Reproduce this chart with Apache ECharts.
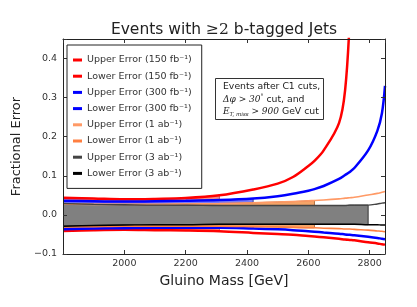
<!DOCTYPE html>
<html><head><meta charset="utf-8">
<script src="https://cdn.jsdelivr.net/npm/echarts@6/dist/echarts.min.js"></script>
<style>html,body{margin:0;padding:0;background:#fff}#c{width:417px;height:307px}</style>
</head><body><div id="c"></div>
<script>
// ---- data ----
const masses   = [1800, 1900, 2000, 2100, 2200, 2310, 2420, 2500, 2550, 2600, 2620, 2650, 2700, 2720, 2735, 2750, 2795, 2825, 2840, 2850];
const redUp    = [0.044, 0.042, 0.040, 0.041, 0.043, 0.050, 0.065, 0.080, 0.097, 0.125, 0.138, 0.165, 0.235, 0.320, 0.500, null, null, null, null, null];
const redLo    = [-0.041, -0.039, -0.038, -0.039, -0.040, -0.042, -0.046, -0.049, -0.051, -0.054, -0.055, -0.057, -0.061, -0.063, -0.064, -0.065, -0.070, -0.073, -0.075, -0.076];
const blueUp   = [0.036, 0.035, 0.034, 0.035, 0.036, 0.038, 0.042, 0.048, 0.054, 0.062, 0.066, 0.074, 0.092, 0.102, 0.110, 0.120, 0.165, 0.215, 0.260, 0.330];
const blueLo   = [-0.037, -0.035, -0.034, -0.033, -0.033, -0.033, -0.035, -0.037, -0.039, -0.042, -0.043, -0.045, -0.048, -0.050, -0.051, -0.052, -0.056, -0.059, -0.061, -0.062];
const orangeUp = [0.028, 0.027, 0.027, 0.027, 0.028, 0.029, 0.031, 0.033, 0.034, 0.036, 0.037, 0.038, 0.041, 0.043, 0.044, 0.045, 0.051, 0.055, 0.058, 0.060];
const orangeLo = [-0.031, -0.030, -0.029, -0.029, -0.029, -0.029, -0.030, -0.031, -0.032, -0.033, -0.033, -0.034, -0.035, -0.036, -0.036, -0.037, -0.039, -0.041, -0.042, -0.043];
const blackUp  = [0.029, 0.027, 0.026, 0.025, 0.025, 0.024, 0.024, 0.024, 0.024, 0.024, 0.024, 0.024, 0.024, 0.024, 0.025, 0.025, 0.025, 0.028, 0.030, 0.031];
const blackLo  = [-0.029, -0.027, -0.026, -0.025, -0.025, -0.024, -0.024, -0.024, -0.024, -0.024, -0.024, -0.024, -0.024, -0.024, -0.024, -0.024, -0.025, -0.025, -0.026, -0.026];
// mass up to which each band is shaded
const bandCut  = {red: 2310, blue: 2420, orange: 2620, black: 2795};
const xTicks   = [2000, 2200, 2400, 2600, 2800];
const yTicks   = [-0.1, 0.0, 0.1, 0.2, 0.3, 0.4];
const legendNames = ['Upper Error (150 fb⁻¹)','Lower Error (150 fb⁻¹)','Upper Error (300 fb⁻¹)','Lower Error (300 fb⁻¹)','Upper Error (1 ab⁻¹)','Lower Error (1 ab⁻¹)','Upper Error (3 ab⁻¹)','Lower Error (3 ab⁻¹)'];

const pairs = arr => masses.map((m,i)=>[m, arr[i]]);
const series = [];
function band(key, up, lo, fillColor, edgeColor, z){
  const n = masses.indexOf(bandCut[key]) + 1;
  const rows = masses.slice(0,n).map((m,i)=>[m, lo[i], up[i]]);
  series.push({type:'custom', name:'band_'+key, silent:true, z:z, clip:true,
    data: rows, encode:{x:0, y:[1,2]},
    renderItem:(params, api)=>{
      if (params.dataIndex !== 0) return null;
      const top = rows.map(r=>api.coord([r[0], r[2]]));
      const bot = rows.map(r=>api.coord([r[0], r[1]])).reverse();
      return {type:'polygon', shape:{points: top.concat(bot)},
        style:{fill:fillColor, stroke:edgeColor, lineWidth:1}};
    }});
}
band('red', redUp, redLo, '#f28c8c', '#c06060', 1);
band('blue', blueUp, blueLo, '#7b7bf4', '#404090', 2);
band('orange', orangeUp, orangeLo, '#f5a468', '#b07040', 3);
band('black', blackUp, blackLo, '#808080', '#333333', 4);

const lineDefs = [
  [legendNames[0], redUp, '#ff0000', 2.5],
  [legendNames[1], redLo, '#ff0000', 2.5],
  [legendNames[2], blueUp, '#0000ff', 2.5],
  [legendNames[3], blueLo, '#0000ff', 2.5],
  [legendNames[4], orangeUp, '#ff9a66', 1.6],
  [legendNames[5], orangeLo, '#ff7f40', 1.6],
  [legendNames[6], blackUp, '#444444', 1.4],
  [legendNames[7], blackLo, '#000000', 1.4]
];
lineDefs.forEach(d=>{
  series.push({type:'line', name:d[0], data:pairs(d[1]), smooth:0.35, showSymbol:false, z:10,
    itemStyle:{color:d[2]}, lineStyle:{color:d[2], width:d[3]}});
});

const axisFont = {fontFamily:'DejaVu Sans', fontSize:9.5, color:'#333'};
const chart = echarts.init(document.getElementById('c'), null, {renderer:'canvas'});
chart.setOption({
  animation:false,
  grid:{left:63, right:32, top:39, bottom:53},
  xAxis:[
    {type:'value', min:1800, max:2850, interval:200, z:12,
     name:'Gluino Mass [GeV]', nameLocation:'middle', nameGap:17,
     nameTextStyle:{fontFamily:'DejaVu Sans', fontSize:14, color:'#222'},
     axisLine:{show:true, onZero:false, lineStyle:{color:'#222', width:1}},
     axisTick:{show:true, inside:true, length:4, lineStyle:{color:'#333'}},
     axisLabel:Object.assign({margin:5, formatter:v=>xTicks.indexOf(v)>=0?String(v):''}, axisFont),
     splitLine:{show:false}},
    {type:'value', position:'top', min:1800, max:2850, interval:200, z:12,
     axisLine:{show:true, onZero:false, lineStyle:{color:'#222', width:1}},
     axisTick:{show:true, inside:true, length:4, lineStyle:{color:'#333'}},
     axisLabel:{show:false}, splitLine:{show:false}}
  ],
  yAxis:[
    {type:'value', min:-0.1, max:0.45, interval:0.1, z:12,
     name:'Fractional Error', nameLocation:'middle', nameGap:29,
     nameTextStyle:{fontFamily:'DejaVu Sans', fontSize:13, color:'#222'},
     axisLine:{show:true, onZero:false, lineStyle:{color:'#222', width:1}},
     axisTick:{show:true, inside:true, length:4, lineStyle:{color:'#333'}},
     axisLabel:Object.assign({margin:6, formatter:v=>{
        const t = yTicks.find(y=>Math.abs(y-v)<1e-9);
        return t===undefined ? '' : t.toFixed(1).replace('-','\u2212');}}, axisFont),
     splitLine:{show:false}},
    {type:'value', position:'right', min:-0.1, max:0.45, interval:0.1, z:12,
     axisLine:{show:true, onZero:false, lineStyle:{color:'#222', width:1}},
     axisTick:{show:true, inside:true, length:4, lineStyle:{color:'#333'}},
     axisLabel:{show:false}, splitLine:{show:false}}
  ],
  legend:{data:legendNames, orient:'vertical', left:67, top:45, selectedMode:false,
    padding:[9,10,9,6], itemGap:4.2, itemWidth:9, itemHeight:3, icon:'rect',
    backgroundColor:'#fff', borderColor:'#222', borderWidth:1, z:20,
    textStyle:{fontFamily:'DejaVu Sans', fontSize:9.5, color:'#333', lineHeight:12}},
  graphic:[
    {type:'text', x:224, y:30, z:30, style:{
      text:'{a|Events with }{b|≥2}{a| b-tagged Jets}', align:'center', verticalAlign:'middle',
      rich:{a:{fontFamily:'DejaVu Sans', fontSize:15.5, fill:'#222'}, b:{fontFamily:'DejaVu Serif', fontSize:15.5, fill:'#222'}}}},
    {type:'rect', z:30, shape:{x:215.5, y:78.5, width:108, height:41}, style:{fill:'#fff', stroke:'#333', lineWidth:1}},
    {type:'text', x:223, y:80.5, z:31, style:{
      text:'{a|Events after C1 cuts,}\n{m|Δφ > 30}{s|°}{a| cut, and}\n{m|E}{sub|T, miss}{m| > 900}{a| GeV cut}',
      rich:{a:{fontFamily:'DejaVu Sans', fontSize:9.3, fill:'#222', lineHeight:12.5},
            m:{fontFamily:'DejaVu Serif', fontStyle:'italic', fontSize:9, fill:'#222', lineHeight:12.5},
            s:{fontFamily:'DejaVu Serif', fontSize:6, fill:'#222', verticalAlign:'top', lineHeight:12.5},
            sub:{fontFamily:'DejaVu Serif', fontStyle:'italic', fontSize:5.5, fill:'#222', verticalAlign:'bottom', lineHeight:12.5}}}}
  ],
  series:series
});
</script></body></html>
